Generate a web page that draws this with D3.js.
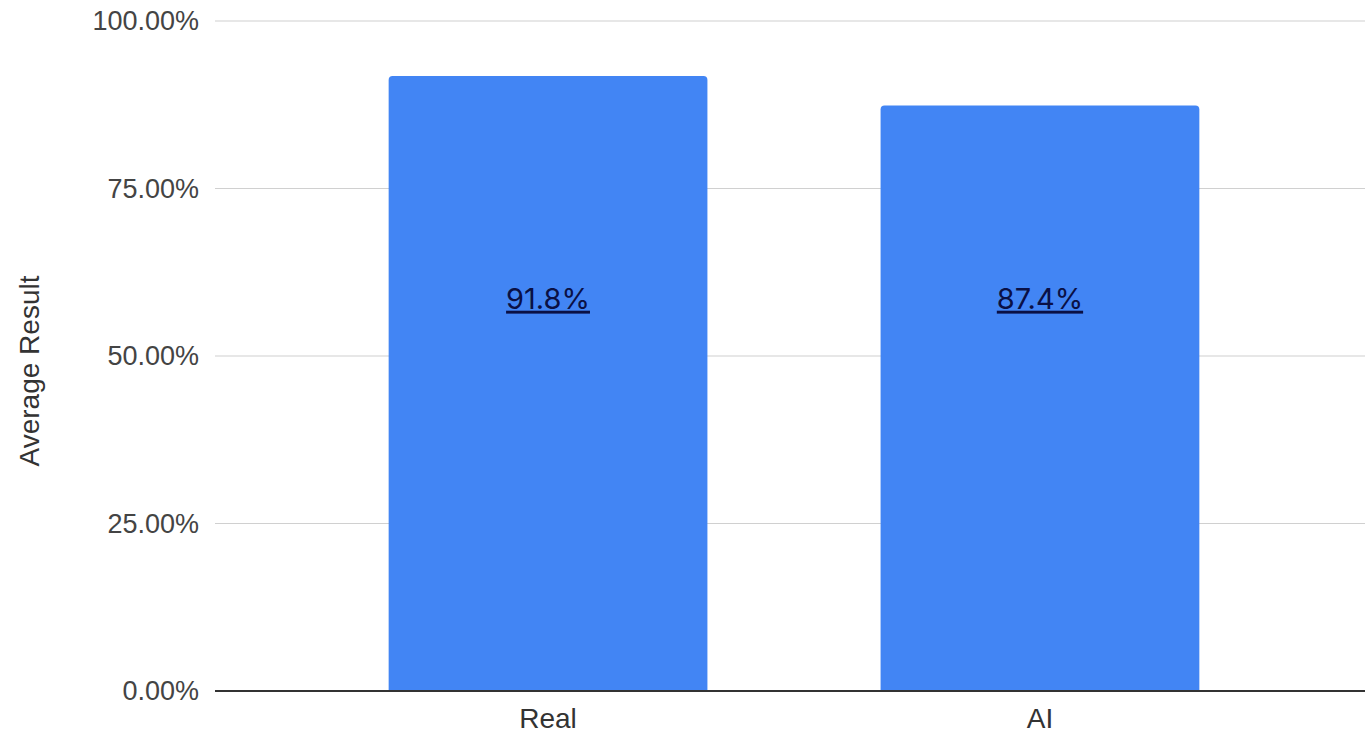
<!DOCTYPE html>
<html lang="en"><head>
<meta charset="UTF-8">
<script src="https://d3js.org/d3.v7.min.js"></script>
<title>Average Result</title>
<style>
  body { margin: 0; background: #fff; }
</style>
</head>
<body>
<svg id="vis" width="1365" height="736"></svg>
<script>
// data
var categories = ["Real", "AI"];
var values = [0.918, 0.874];
var valueLabels = ["91.8%", "87.4%"];
var yTicks = [0, 0.25, 0.5, 0.75, 1];

var svg = d3.select("#vis");

// scales
var x = d3.scaleBand()
  .domain(categories)
  .range([215, 1373])
  .paddingInner(0.352)
  .paddingOuter(0.353);

var y = d3.scaleLinear()
  .domain([0, 1])
  .range([691, 21]);

// gridlines
svg.append("g")
  .selectAll("line")
  .data(yTicks.filter(function(d){ return d > 0; }))
  .join("line")
  .attr("x1", 215).attr("x2", 1365)
  .attr("y1", function(d){ return y(d); })
  .attr("y2", function(d){ return y(d); })
  .attr("stroke", "#d0d0d0")
  .attr("stroke-width", 1.2);

// y axis labels
var yAxis = d3.axisLeft(y)
  .tickValues(yTicks)
  .tickFormat(d3.format(".2%"))
  .tickSize(0)
  .tickPadding(16);
var gy = svg.append("g").attr("transform", "translate(215,0)").call(yAxis);
gy.select(".domain").remove();
gy.selectAll("text")
  .attr("font-family", "Liberation Sans, Arial, sans-serif")
  .attr("font-size", 27)
  .attr("fill", "#444");

// bars, slightly rounded on top
var r = 4;
svg.append("g")
  .selectAll("path")
  .data(values)
  .join("path")
  .attr("fill", "#4285f4")
  .attr("d", function(d, i){
    var x0 = x(categories[i]), w = x.bandwidth(), y0 = y(d), y1 = y(0);
    return "M" + x0 + "," + y1 +
      "V" + (y0 + r) +
      "Q" + x0 + "," + y0 + " " + (x0 + r) + "," + y0 +
      "H" + (x0 + w - r) +
      "Q" + (x0 + w) + "," + y0 + " " + (x0 + w) + "," + (y0 + r) +
      "V" + y1 + "Z";
  });

// value labels
svg.append("g")
  .selectAll("text")
  .data(valueLabels)
  .join("text")
  .attr("x", function(d, i){ return x(categories[i]) + x.bandwidth() / 2; })
  .attr("y", y(0.584) + 9)
  .attr("text-anchor", "middle")
  .attr("font-family", "Inter, sans-serif")
  .attr("font-size", 29)
  .attr("fill", "#0a1045")
  .attr("text-decoration", "underline")
  .text(function(d){ return d; });

// x axis
var xAxis = d3.axisBottom(x).tickSize(0).tickPadding(17);
var gx = svg.append("g").attr("transform", "translate(0,691)").call(xAxis);
gx.select(".domain").remove();
gx.selectAll("text")
  .attr("font-family", "Liberation Sans, Arial, sans-serif")
  .attr("font-size", 28)
  .attr("fill", "#333");
svg.append("line")
  .attr("x1", 215).attr("x2", 1365)
  .attr("y1", y(0)).attr("y2", y(0))
  .attr("stroke", "#333")
  .attr("stroke-width", 2);

// y axis title
svg.append("text")
  .attr("transform", "translate(39," + (y(0.5) + 15) + ") rotate(-90)")
  .attr("text-anchor", "middle")
  .attr("font-family", "Liberation Sans, Arial, sans-serif")
  .attr("font-size", 28)
  .attr("fill", "#333")
  .text("Average Result");
</script>
</body></html>
